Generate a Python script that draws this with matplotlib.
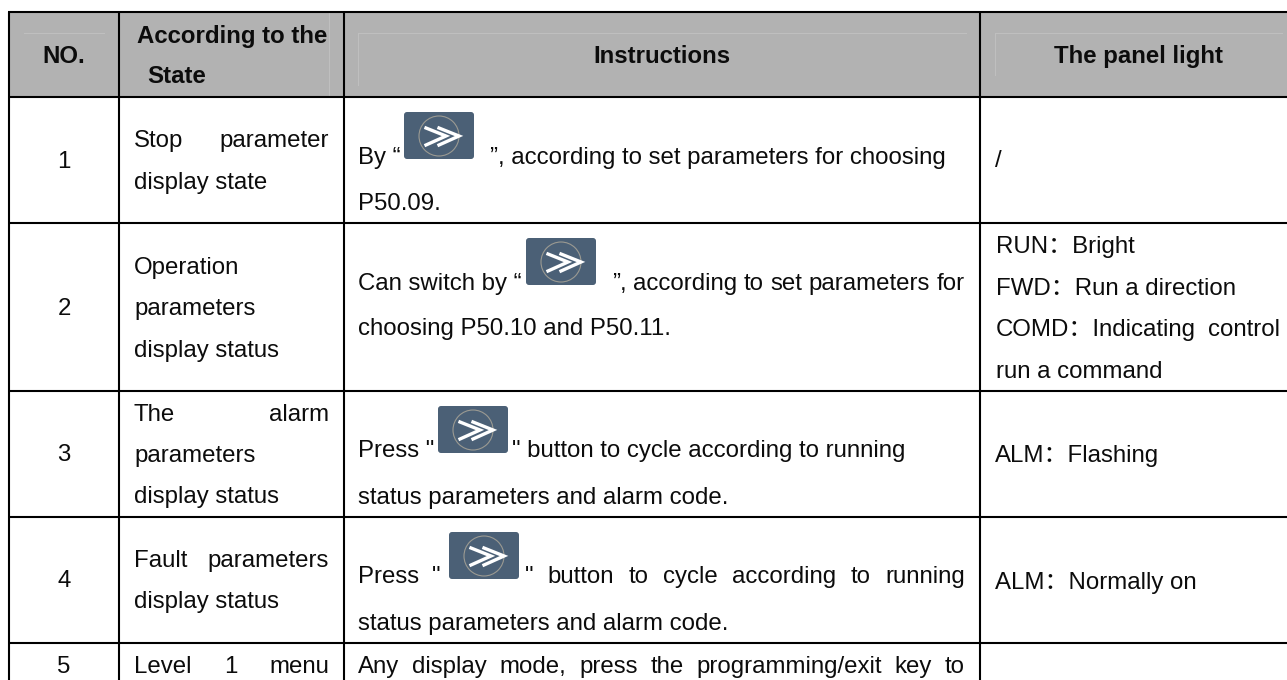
# coding: utf-8
import matplotlib
matplotlib.use('Agg')
from matplotlib import pyplot as plt
from matplotlib.patches import Rectangle, FancyBboxPatch, Circle

W, H = 1287, 680
FONT = ['Liberation Sans', 'Noto Sans CJK SC']
SIZE = 17.28

# table grid in pixels
col_edges = [9, 119, 344, 980]
row_edges = [12, 97, 223, 391, 517, 643]

numbers = ['1', '2', '3', '4', '5']
number_base = [168, 315, 461, 587, 673]

headers = ['NO.', 'Instructions', 'The panel light']
header_x = [64, 661.5, 1138.5]

# (text, x, baseline)
plain_lines = [
    ('display state', 134, 189),
    ('Operation', 134, 274),
    ('parameters', 134, 315),
    ('display status', 134, 357),
    ('parameters', 134, 462),
    ('display status', 134, 503),
    ('display status', 134, 608),
    ('By “', 358, 164),
    ('”, according to set parameters for choosing', 490, 164),
    ('P50.09.', 358, 210),
    ('Can switch by “', 358, 290),
    ('choosing P50.10 and P50.11.', 358, 335),
    ('Press "', 358, 457),
    ('" button to cycle according to running', 512, 457),
    ('status parameters and alarm code.', 358, 504),
    ('status parameters and alarm code.', 358, 630),
    ('/', 995, 167),
    ('RUN：Bright', 996, 253),
    ('FWD：Run a direction', 996, 295),
    ('run a command', 996, 378),
    ('ALM：Flashing', 995, 462),
    ('ALM：Normally on', 995, 589),
]

# (text, left, right, baseline), words spread over the cell like the original
justified_lines = [
    ('Stop parameter', 134, 329, 147),
    ('The alarm', 134, 329, 421),
    ('Fault parameters', 134, 329, 567),
    ('Level 1 menu', 134, 329, 673),
    ('”, according to set parameters for', 612, 965, 290),
    ('Press "', 358, 440, 583),
    ('" button to cycle according to running', 525, 965, 583),
    ('Any display mode, press the programming/exit key to', 358, 965, 673),
    ('COMD：Indicating control', 996, 1280, 336),
]

# left, top of each key picture
key_pos = [(404, 112), (526, 238), (438, 406), (449, 532)]

fig = plt.figure(figsize=(W / 100, H / 100), dpi=100)
ax = fig.add_axes([0, 0, 1, 1])
ax.set_xlim(0, W)
ax.set_ylim(H, 0)
ax.axis('off')


def put(x, y, s, weight='normal', ha='left'):
    return ax.text(x, y, s, family=FONT, fontsize=SIZE, weight=weight, ha=ha,
                   va='baseline', color='#0c0c0c')


def put_spread(s, left, right, y):
    renderer = fig.canvas.get_renderer()
    items = [put(left, y, w) for w in s.split(' ')]
    widths = [t.get_window_extent(renderer).width for t in items]
    gap = (right - left - sum(widths)) / (len(items) - 1)
    x = left
    for t, w in zip(items, widths):
        t.set_x(x)
        x += w + gap


def draw_key(x, y):
    ax.add_patch(FancyBboxPatch((x + 2, y + 2), 66, 43, boxstyle='round,pad=2,rounding_size=3',
                                fc='#4b6076', ec='none'))
    ax.add_patch(Circle((x + 35, y + 24), 20, fc='none', ec='#9b9a92', lw=0.8))
    for dx in (0, 13):
        ax.plot([x + 22 + dx, x + 42 + dx, x + 22 + dx], [y + 16, y + 24, y + 33],
                color='white', lw=2.4, solid_joinstyle='miter')


# header band and its faint inner lines
ax.add_patch(Rectangle((col_edges[0], row_edges[0]), W - col_edges[0], row_edges[1] - row_edges[0],
                       fc='#b2b2b2', ec='none'))
faint = [
    ([24, 104], [33, 33]),
    ([329, 329], [12, 97]),
    ([358, 966], [33, 33]),
    ([358, 358], [33, 85]),
    ([995, 1282], [33, 33]),
    ([995, 995], [33, 75]),
]
for xs, ys in faint:
    ax.plot(xs, ys, color='#c0c0c0', lw=0.7)

# grid
for y in row_edges:
    ax.plot([col_edges[0] - 1, W], [y, y], color='black', lw=1.5, solid_capstyle='butt')
for x in col_edges:
    ax.plot([x, x], [row_edges[0], H], color='black', lw=1.5, solid_capstyle='butt')

# header text
for s, x in zip(headers, header_x):
    put(x, 63, s, weight='bold', ha='center')
put(137, 43, 'According to the', weight='bold')
put(147, 83, 'State', weight='bold')

for s, y in zip(numbers, number_base):
    put(64, y, s, ha='center')
for s, x, y in plain_lines:
    put(x, y, s)
for s, left, right, y in justified_lines:
    put_spread(s, left, right, y)
for x, y in key_pos:
    draw_key(x, y)

fig.savefig('out.png', dpi=100)
